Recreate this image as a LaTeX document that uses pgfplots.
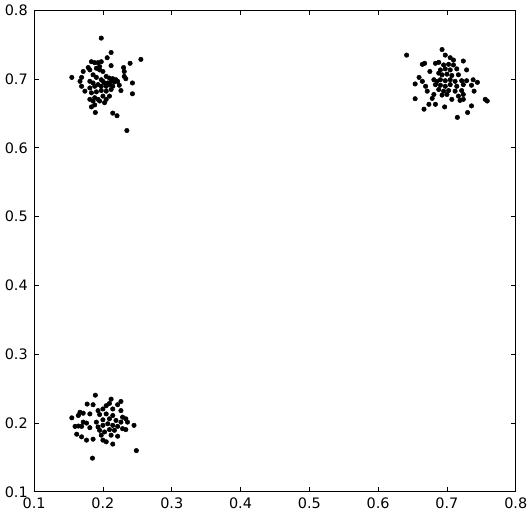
\documentclass[border=0pt]{standalone}
\usepackage{fontspec}
\setmainfont{DejaVu Sans}
\usepackage{pgfplots}
\pgfplotsset{compat=1.18}

\pgfplotstableread{
x y
0.1976 0.7595
0.2119 0.7386
0.2062 0.7310
0.2552 0.7286
0.2395 0.7229
0.1833 0.7252
0.1881 0.7238
0.1929 0.7238
0.1976 0.7252
0.1952 0.7181
0.2119 0.7195
0.1786 0.7167
0.1714 0.7110
0.1810 0.7133
0.1905 0.7157
0.1952 0.7133
0.2000 0.7110
0.2300 0.7167
0.2310 0.7110
0.1548 0.7024
0.1690 0.7024
0.1667 0.6967
0.1857 0.7062
0.1905 0.7024
0.2048 0.7038
0.2095 0.7014
0.2143 0.7005
0.2190 0.6990
0.2310 0.7038
0.2333 0.7005
0.2429 0.6943
0.1976 0.6990
0.2000 0.6967
0.2024 0.6943
0.2071 0.6943
0.2119 0.6967
0.2167 0.6957
0.2214 0.6967
0.1810 0.6967
0.1857 0.6943
0.1690 0.6895
0.1810 0.6871
0.1881 0.6895
0.1929 0.6919
0.1976 0.6895
0.2048 0.6895
0.2095 0.6919
0.2143 0.6895
0.2238 0.6910
0.2262 0.6833
0.2429 0.6786
0.1738 0.6824
0.1833 0.6800
0.1905 0.6814
0.1976 0.6833
0.2048 0.6824
0.2119 0.6848
0.1881 0.6729
0.1929 0.6705
0.2000 0.6752
0.2048 0.6705
0.2095 0.6752
0.1810 0.6705
0.1857 0.6681
0.1952 0.6681
0.2024 0.6657
0.1881 0.6624
0.1833 0.6595
0.1890 0.6514
0.2143 0.6505
0.2205 0.6467
0.2348 0.6252
}\clusterA

\pgfplotstableread{
x y
0.6414 0.7348
0.6929 0.7429
0.6976 0.7348
0.7048 0.7310
0.7095 0.7276
0.6643 0.7214
0.6676 0.7229
0.6833 0.7229
0.6881 0.7243
0.6952 0.7205
0.7024 0.7214
0.7095 0.7205
0.7238 0.7262
0.6752 0.7110
0.6905 0.7133
0.6976 0.7148
0.7048 0.7133
0.7143 0.7148
0.7286 0.7133
0.6595 0.7024
0.6881 0.7086
0.6929 0.7062
0.7000 0.7071
0.7071 0.7052
0.7167 0.7062
0.6643 0.6967
0.6810 0.6990
0.6857 0.6967
0.6905 0.6990
0.6976 0.6976
0.7048 0.6990
0.7119 0.6967
0.7214 0.6976
0.7286 0.6976
0.7381 0.6990
0.7443 0.6952
0.6538 0.6929
0.6690 0.6895
0.6833 0.6919
0.6905 0.6910
0.6976 0.6895
0.7048 0.6919
0.7143 0.6895
0.7238 0.6919
0.7357 0.6910
0.6714 0.6824
0.6881 0.6848
0.6952 0.6824
0.7024 0.6833
0.7119 0.6824
0.7214 0.6833
0.7395 0.6824
0.6810 0.6776
0.6929 0.6767
0.7000 0.6776
0.7167 0.6752
0.7238 0.6776
0.6786 0.6719
0.7071 0.6705
0.7190 0.6690
0.7238 0.6705
0.7586 0.6681
0.7557 0.6705
0.6538 0.6714
0.6738 0.6633
0.6833 0.6633
0.6667 0.6562
0.6967 0.6595
0.7357 0.6610
0.7300 0.6514
0.7152 0.6443
}\clusterB

\pgfplotstableread{
x y
0.1890 0.2405
0.2119 0.2348
0.2262 0.2314
0.2095 0.2286
0.1771 0.2276
0.1857 0.2267
0.2048 0.2252
0.2214 0.2267
0.1667 0.2157
0.1714 0.2143
0.1929 0.2181
0.2000 0.2205
0.2143 0.2205
0.2262 0.2181
0.1548 0.2076
0.1643 0.2110
0.1810 0.2133
0.1952 0.2124
0.2048 0.2133
0.2143 0.2110
0.2286 0.2086
0.2333 0.2062
0.1595 0.1952
0.1643 0.1957
0.1714 0.2014
0.1762 0.2000
0.1905 0.2014
0.2000 0.2048
0.2095 0.2062
0.2190 0.2038
0.2262 0.2014
0.2357 0.2014
0.2452 0.1967
0.1929 0.1943
0.2000 0.1967
0.2071 0.1990
0.2143 0.1967
0.2214 0.1952
0.2286 0.1919
0.2333 0.1905
0.1690 0.1952
0.1810 0.1933
0.1952 0.1895
0.2024 0.1871
0.2095 0.1905
0.2167 0.1895
0.1619 0.1838
0.1690 0.1800
0.1762 0.1752
0.1857 0.1766
0.2000 0.1752
0.2048 0.1728
0.2143 0.1695
0.1976 0.1824
0.2119 0.1824
0.2214 0.1809
0.2486 0.1600
0.1848 0.1490
}\clusterC

\begin{document}
\fontsize{11}{13}\selectfont
\begin{tikzpicture}
\begin{axis}[
  scale only axis,
  width=367.5pt, height=367.5pt,
  xmin=0.1, xmax=0.8, ymin=0.1, ymax=0.8,
  xtick={0.1,0.2,0.3,0.4,0.5,0.6,0.7,0.8},
  ytick={0.1,0.2,0.3,0.4,0.5,0.6,0.7,0.8},
  tick align=inside,
  major tick length=3.5pt,
  tick style={black, line width=0.6pt},
  axis line style={black, line width=0.75pt},
  /pgf/number format/assume math mode=true,
  /pgf/number format/.cd, fixed, fixed zerofill, precision=1,
  /pgfplots/.cd,
  tick label style={font=\fontsize{11}{13}\selectfont},
  xticklabel style={yshift=-1pt},
  yticklabel style={xshift=-1pt},
]
\addplot[only marks, mark=*, mark size=1.7pt, black] table {\clusterA};
\addplot[only marks, mark=*, mark size=1.7pt, black] table {\clusterB};
\addplot[only marks, mark=*, mark size=1.7pt, black] table {\clusterC};
\end{axis}
\end{tikzpicture}
\end{document}
